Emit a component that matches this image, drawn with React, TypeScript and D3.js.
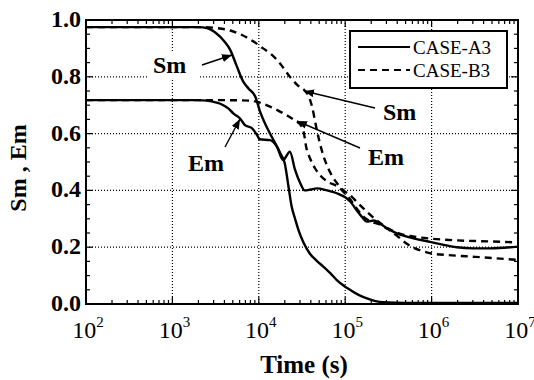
import React from 'react';
import * as d3 from 'd3';

// [time (s), value]
const caseA3Sm: [number, number][] = [
  [1e2, 0.975], [2.0e3, 0.975], [2.5e3, 0.972], [3.16e3, 0.955], [3.98e3, 0.925], [4.68e3, 0.894],
  [5.5e3, 0.841], [6.61e3, 0.783], [7.59e3, 0.759], [9.12e3, 0.73], [1.02e4, 0.683], [1.23e4, 0.624],
  [1.48e4, 0.577], [1.78e4, 0.53], [2.0e4, 0.495], [2.19e4, 0.42], [2.4e4, 0.343], [2.63e4, 0.3],
  [2.88e4, 0.26], [3.31e4, 0.215], [3.89e4, 0.178], [4.68e4, 0.152], [5.62e4, 0.131], [6.76e4, 0.108],
  [7.94e4, 0.085], [9.55e4, 0.065], [1.15e5, 0.049], [1.41e5, 0.033], [1.78e5, 0.02], [2.24e5, 0.01],
  [2.75e5, 0.006], [5.01e5, 0.004], [1e7, 0.004],
];

const caseA3Em: [number, number][] = [
  [1e2, 0.718], [2.0e3, 0.718], [2.5e3, 0.716], [3.16e3, 0.71], [3.89e3, 0.7], [4.47e3, 0.688],
  [5.07e3, 0.671], [6.03e3, 0.654], [6.92e3, 0.63], [8.32e3, 0.619], [9.55e3, 0.595], [1.02e4, 0.58],
  [1.35e4, 0.577], [1.62e4, 0.554], [1.91e4, 0.507], [2.29e4, 0.536], [2.63e4, 0.472], [3.02e4, 0.425],
  [3.39e4, 0.4], [3.98e4, 0.403], [4.68e4, 0.407], [6.17e4, 0.4], [8.32e4, 0.388], [1.0e5, 0.376],
  [1.15e5, 0.36], [1.35e5, 0.331], [1.58e5, 0.305], [1.78e5, 0.29], [2.14e5, 0.294], [2.51e5, 0.284],
  [3.02e5, 0.267], [3.98e5, 0.249], [6.17e5, 0.231], [9.55e5, 0.219], [1.38e6, 0.208], [1.95e6, 0.2],
  [3.02e6, 0.196], [4.79e6, 0.196], [1e7, 0.202],
];

const caseB3Sm: [number, number][] = [
  [1e2, 0.975], [2.24e3, 0.975], [3.16e3, 0.972], [4.68e3, 0.963], [6.31e3, 0.948], [8.71e3, 0.924],
  [1.12e4, 0.9], [1.41e4, 0.878], [1.78e4, 0.845], [2.29e4, 0.8], [2.82e4, 0.77], [3.39e4, 0.752],
  [3.8e4, 0.73], [4.17e4, 0.69], [4.57e4, 0.63], [5.01e4, 0.575], [5.62e4, 0.52], [6.31e4, 0.48],
  [7.24e4, 0.445], [8.32e4, 0.42], [9.55e4, 0.4], [1.12e5, 0.385], [1.41e5, 0.355], [1.78e5, 0.325],
  [2.24e5, 0.298], [2.82e5, 0.275], [3.55e5, 0.258], [4.47e5, 0.246], [6.31e5, 0.237], [1e6, 0.23],
  [2.0e6, 0.224], [5.01e6, 0.22], [1e7, 0.217],
];

const caseB3Em: [number, number][] = [
  [1e2, 0.718], [3.16e3, 0.718], [7.94e3, 0.716], [1.0e4, 0.71], [1.35e4, 0.695], [1.58e4, 0.685],
  [2.09e4, 0.665], [2.75e4, 0.642], [3.02e4, 0.632], [3.31e4, 0.605], [3.55e4, 0.55], [3.89e4, 0.515],
  [4.47e4, 0.478], [5.25e4, 0.45], [6.31e4, 0.43], [8.32e4, 0.412], [9.55e4, 0.395], [1.12e5, 0.372],
  [1.35e5, 0.337], [1.66e5, 0.305], [2.0e5, 0.29], [2.51e5, 0.28], [3.16e5, 0.263], [3.98e5, 0.24],
  [5.01e5, 0.215], [6.31e5, 0.197], [7.94e5, 0.186], [1e6, 0.178], [1.58e6, 0.172], [2.51e6, 0.168],
  [5.01e6, 0.162], [1e7, 0.155],
];

const xDecades = [1e2, 1e3, 1e4, 1e5, 1e6, 1e7];
const yTickValues = [0, 0.2, 0.4, 0.6, 0.8, 1.0];
const legendItems = [
  { label: 'CASE-A3', dash: 'none' },
  { label: 'CASE-B3', dash: '7,5' },
];

const FONT = "'Liberation Serif', 'DejaVu Serif', serif";

const App = () => {
  const width = 534;
  const height = 380;
  const left = 86, right = 518, top = 20, bottom = 304;

  const x = d3.scaleLog().domain([1e2, 1e7]).range([left, right]);
  const y = d3.scaleLinear().domain([0, 1]).range([bottom, top]);

  const line = d3.line<[number, number]>()
    .x(d => x(d[0]))
    .y(d => y(d[1]))
    .curve(d3.curveMonotoneX);

  const isDecade = (t: number) => Math.abs(Math.log10(t) - Math.round(Math.log10(t))) < 1e-6;
  const xTicks = x.ticks();
  const yMinor = d3.range(0, 1.0001, 0.05);

  return (
    <svg width={width} height={height}
      style={{ position: 'absolute', left: 0, top: 0, background: '#fff', fontFamily: FONT }}>
      <defs>
        <marker id="arrow" viewBox="0 0 10 8" refX="10" refY="4" markerWidth="10" markerHeight="8"
          markerUnits="userSpaceOnUse" orient="auto">
          <path d="M0,0 L10,4 L0,8 Z" fill="#000" />
        </marker>
      </defs>

      {/* grid */}
      <g stroke="#000" strokeWidth={1.2} strokeDasharray="1,2">
        {xDecades.slice(1, -1).map(t => (
          <line key={t} x1={x(t)} x2={x(t)} y1={top} y2={bottom} />
        ))}
        {yTickValues.slice(1, -1).map(v => (
          <line key={v} x1={left} x2={right} y1={y(v)} y2={y(v)} />
        ))}
      </g>

      {/* ticks */}
      <g stroke="#000" strokeWidth={1.2}>
        {xTicks.map(t => {
          const len = isDecade(t) ? 7 : 4;
          return (
            <g key={t}>
              <line x1={x(t)} x2={x(t)} y1={bottom} y2={bottom - len} />
              <line x1={x(t)} x2={x(t)} y1={top} y2={top + len} />
            </g>
          );
        })}
        {yMinor.map((v, i) => {
          const len = i % 4 === 0 ? 7 : 4;
          return (
            <g key={i}>
              <line x1={left} x2={left + len} y1={y(v)} y2={y(v)} />
              <line x1={right} x2={right - len} y1={y(v)} y2={y(v)} />
            </g>
          );
        })}
      </g>

      {/* curves */}
      <g fill="none" stroke="#000" strokeWidth={2.4} strokeLinejoin="round">
        <path d={line(caseA3Sm) || ''} />
        <path d={line(caseA3Em) || ''} />
        <path d={line(caseB3Sm) || ''} strokeDasharray="7,5" />
        <path d={line(caseB3Em) || ''} strokeDasharray="7,5" />
      </g>

      {/* frame */}
      <rect x={left} y={top} width={right - left} height={bottom - top} fill="none" stroke="#000" strokeWidth={2} />

      {/* annotations */}
      <rect x={147} y={52} width={53} height={28} fill="#fff" />
      <g fontSize={24} fontWeight="bold">
        <text x={153} y={73}>Sm</text>
        <text x={188} y={171}>Em</text>
        <text x={383} y={120}>Sm</text>
        <text x={368} y={165}>Em</text>
      </g>
      <g stroke="#000" strokeWidth={1.4} markerEnd="url(#arrow)">
        <line x1={202} y1={65} x2={232} y2={55} />
        <line x1={225} y1={147} x2={240} y2={119} />
        <line x1={375} y1={108} x2={304} y2={91} />
        <line x1={360} y1={148} x2={297} y2={121} />
      </g>

      {/* legend */}
      <rect x={350} y={31} width={157} height={57} fill="#fff" stroke="#000" strokeWidth={2} />
      {legendItems.map((d, i) => (
        <g key={d.label} transform={`translate(0,${47 + i * 23})`}>
          <line x1={358} x2={410} y1={0} y2={0} stroke="#000" strokeWidth={2.2} strokeDasharray={d.dash} />
          <text x={413} y={6.5} fontSize={19}>{d.label}</text>
        </g>
      ))}

      {/* y tick labels */}
      <g fontSize={24} fontWeight="bold" textAnchor="end">
        {yTickValues.map(v => (
          <text key={v} x={81} y={y(v) + 7}>{v.toFixed(1)}</text>
        ))}
      </g>

      {/* x tick labels */}
      <g fontSize={24} textAnchor="middle">
        {xDecades.map(t => (
          <text key={t} x={x(t) + 2} y={338}>
            10<tspan fontSize={15} dy={-11}>{Math.round(Math.log10(t))}</tspan>
          </text>
        ))}
      </g>

      <text x={304} y={373} fontSize={25} fontWeight="bold" textAnchor="middle">Time (s)</text>
      <text transform="translate(26,168) rotate(-90)" fontSize={24} fontWeight="bold" textAnchor="middle">
        Sm , Em
      </text>
    </svg>
  );
};

export default App;
